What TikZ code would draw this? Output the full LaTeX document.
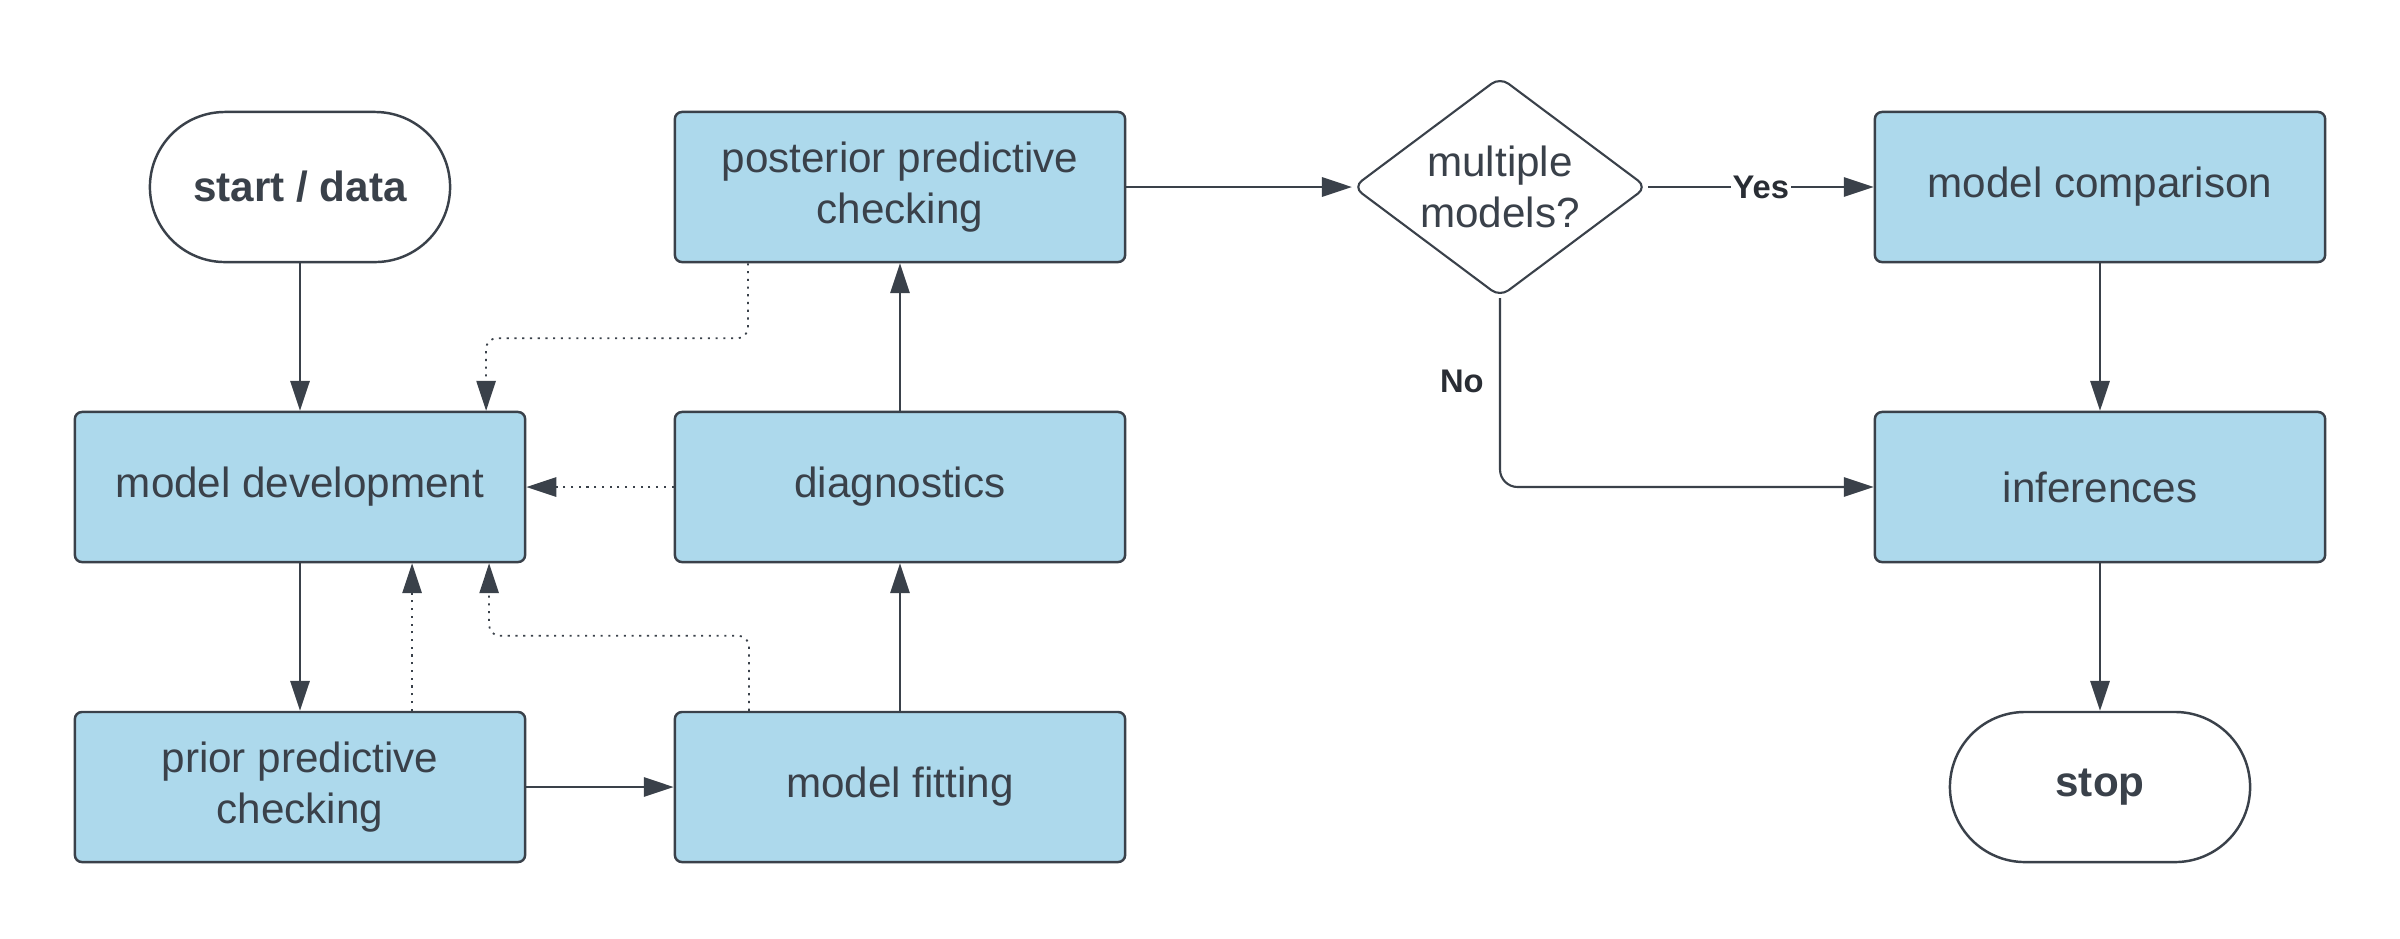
\documentclass[tikz,border=0pt]{standalone}
\usepackage{fontspec}
\setmainfont{Liberation Sans}
\usetikzlibrary{shapes.geometric,arrows.meta}
\definecolor{boxfill}{RGB}{173,217,236}
\definecolor{ink}{RGB}{58,65,74}
\begin{document}
\begin{tikzpicture}[x=0.01cm,y=-0.01cm,
  every node/.style={text=ink, font=\fontsize{12}{14.5}\selectfont},
  procbox/.style={draw=ink, fill=boxfill, line width=0.7pt, rounded corners=2pt, minimum width=4.5cm, minimum height=1.5cm, inner sep=0pt, align=center},
  termbox/.style={draw=ink, fill=white, line width=0.7pt, rounded corners=0.75cm, minimum width=3cm, minimum height=1.5cm, inner sep=0pt, font=\bfseries\fontsize{12}{14.5}\selectfont},
  decbox/.style={diamond, draw=ink, fill=white, line width=0.6pt, rounded corners=3pt, shape aspect=1.327, minimum width=2.94cm, minimum height=2.2cm, inner sep=0pt, align=center},
  flow/.style={draw=ink, line width=0.6pt, -{Triangle[length=8.5pt,width=5.5pt]}},
  back/.style={flow, line width=0.5pt, dash pattern=on 0.6pt off 1.6pt, rounded corners=3pt},
  lbl/.style={font=\bfseries\fontsize{9.3}{11}\selectfont, text=ink!70!black}
]
\useasboundingbox (0,0) rectangle (2400,938);

\node[termbox] (start) at (300,187) {start / data};
\node[procbox] (moddev) at (300,487) {model development};
\node[procbox] (prior) at (300,787) {prior predictive\\checking};
\node[procbox] (fit) at (900,787) {model fitting};
\node[procbox] (diag) at (900,487) {diagnostics};
\node[procbox] (post) at (900,187) {posterior predictive\\checking};
\node[decbox] (dec) at (1500,187) {multiple\\models?};
\node[procbox] (comp) at (2100,187) {model comparison};
\node[procbox] (inf) at (2100,487) {inferences};
\node[termbox] (stop) at (2100,787) {stop};

\draw[flow] (start.south) -- (moddev.north);
\draw[flow] (moddev.south) -- (prior.north);
\draw[flow] (prior.east) -- (fit.west);
\draw[flow] (fit.north) -- (diag.south);
\draw[flow] (diag.north) -- (post.south);
\draw[flow] (post.east) -- (dec.west);
\draw[flow] (dec.east) -- node[lbl, fill=white, inner sep=0.5pt] {Yes} (comp.west);
\draw[flow, rounded corners=5pt] (dec.south) |- node[lbl, pos=0.22, anchor=east, xshift=-1pt] {No} (inf.west);
\draw[flow] (comp.south) -- (inf.north);
\draw[flow] (inf.south) -- (stop.north);

\draw[back] ([xshift=-1.52cm]post.south) -- ++(0,75) -| ([xshift=1.86cm]moddev.north);
\draw[back] (diag.west) -- (moddev.east);
\draw[back] ([xshift=1.12cm]prior.north) -- ([xshift=1.12cm]moddev.south);
\draw[back] ([xshift=-1.51cm]fit.north) -- ++(0,-75) -| ([xshift=1.89cm]moddev.south);
\end{tikzpicture}
\end{document}
